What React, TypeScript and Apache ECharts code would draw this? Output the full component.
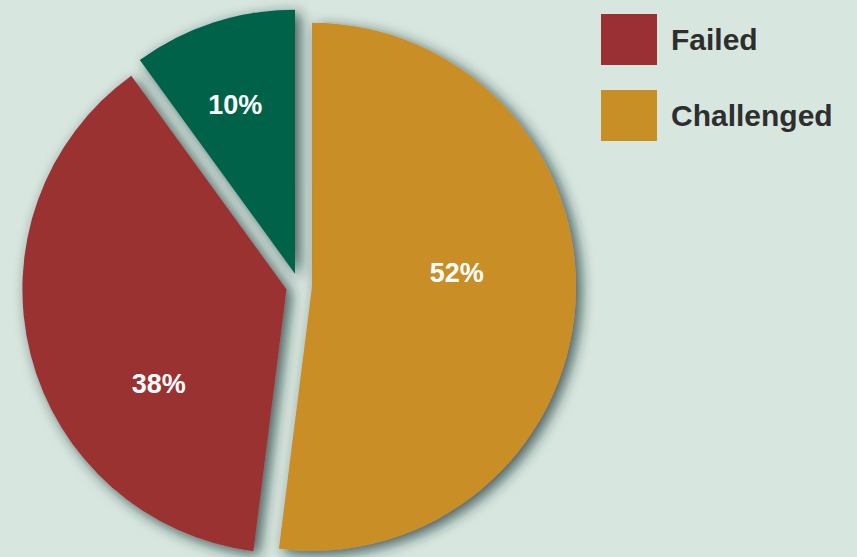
import React, { useEffect, useRef } from "react";
import * as echarts from "echarts";

const categories = ["Challenged", "Failed", "Successful"];
const values = [52, 38, 10];
const colors = ["#c98f27", "#9a3033", "#00634a"];
const legendItems = ["Failed", "Challenged"];
// label nudges (dx, dy) from the default inside-label position
const labelNudges = [
  [10, -22],
  [3, 61],
  [-18, -40],
];

export default function App() {
  const ref = useRef<HTMLDivElement>(null);
  useEffect(() => {
    if (!ref.current) return;
    const chart = echarts.init(ref.current, undefined, { renderer: "svg" });
    chart.setOption({
      animation: false,
      backgroundColor: "#d7e6df",
      color: colors,
      legend: {
        data: legendItems,
        orient: "vertical",
        left: 601,
        top: 14,
        padding: 0,
        itemWidth: 56,
        itemHeight: 51,
        itemGap: 25,
        icon: "rect",
        selectedMode: false,
        textStyle: {
          fontFamily: "Liberation Sans",
          fontWeight: "bold",
          fontSize: 30,
          color: "#2e2e2e",
          padding: [12, 0, 0, 9],
        },
      },
      series: [
        {
          type: "pie",
          center: [299, 286],
          radius: [0, 264],
          startAngle: 90,
          clockwise: true,
          selectedMode: "multiple",
          selectedOffset: 13,
          emphasis: { disabled: true },
          itemStyle: {
            shadowBlur: 14,
            shadowOffsetX: 5,
            shadowOffsetY: 4,
            shadowColor: "rgba(20,40,40,0.75)",
          },
          label: {
            position: "inside",
            formatter: "{c}%",
            color: "#ffffff",
            fontFamily: "Liberation Sans",
            fontWeight: "bold",
            fontSize: 27,
          },
          labelLine: { show: false },
          labelLayout: (params: any) => {
            const n = labelNudges[params.dataIndex] || [0, 0];
            return { dx: n[0], dy: n[1] };
          },
          data: categories.map((name, i) => ({
            name,
            value: values[i],
            selected: true,
          })),
        },
      ],
    });
    return () => chart.dispose();
  }, []);
  return (
    <div
      ref={ref}
      style={{ position: "fixed", left: 0, top: 0, width: 857, height: 557 }}
    />
  );
}
